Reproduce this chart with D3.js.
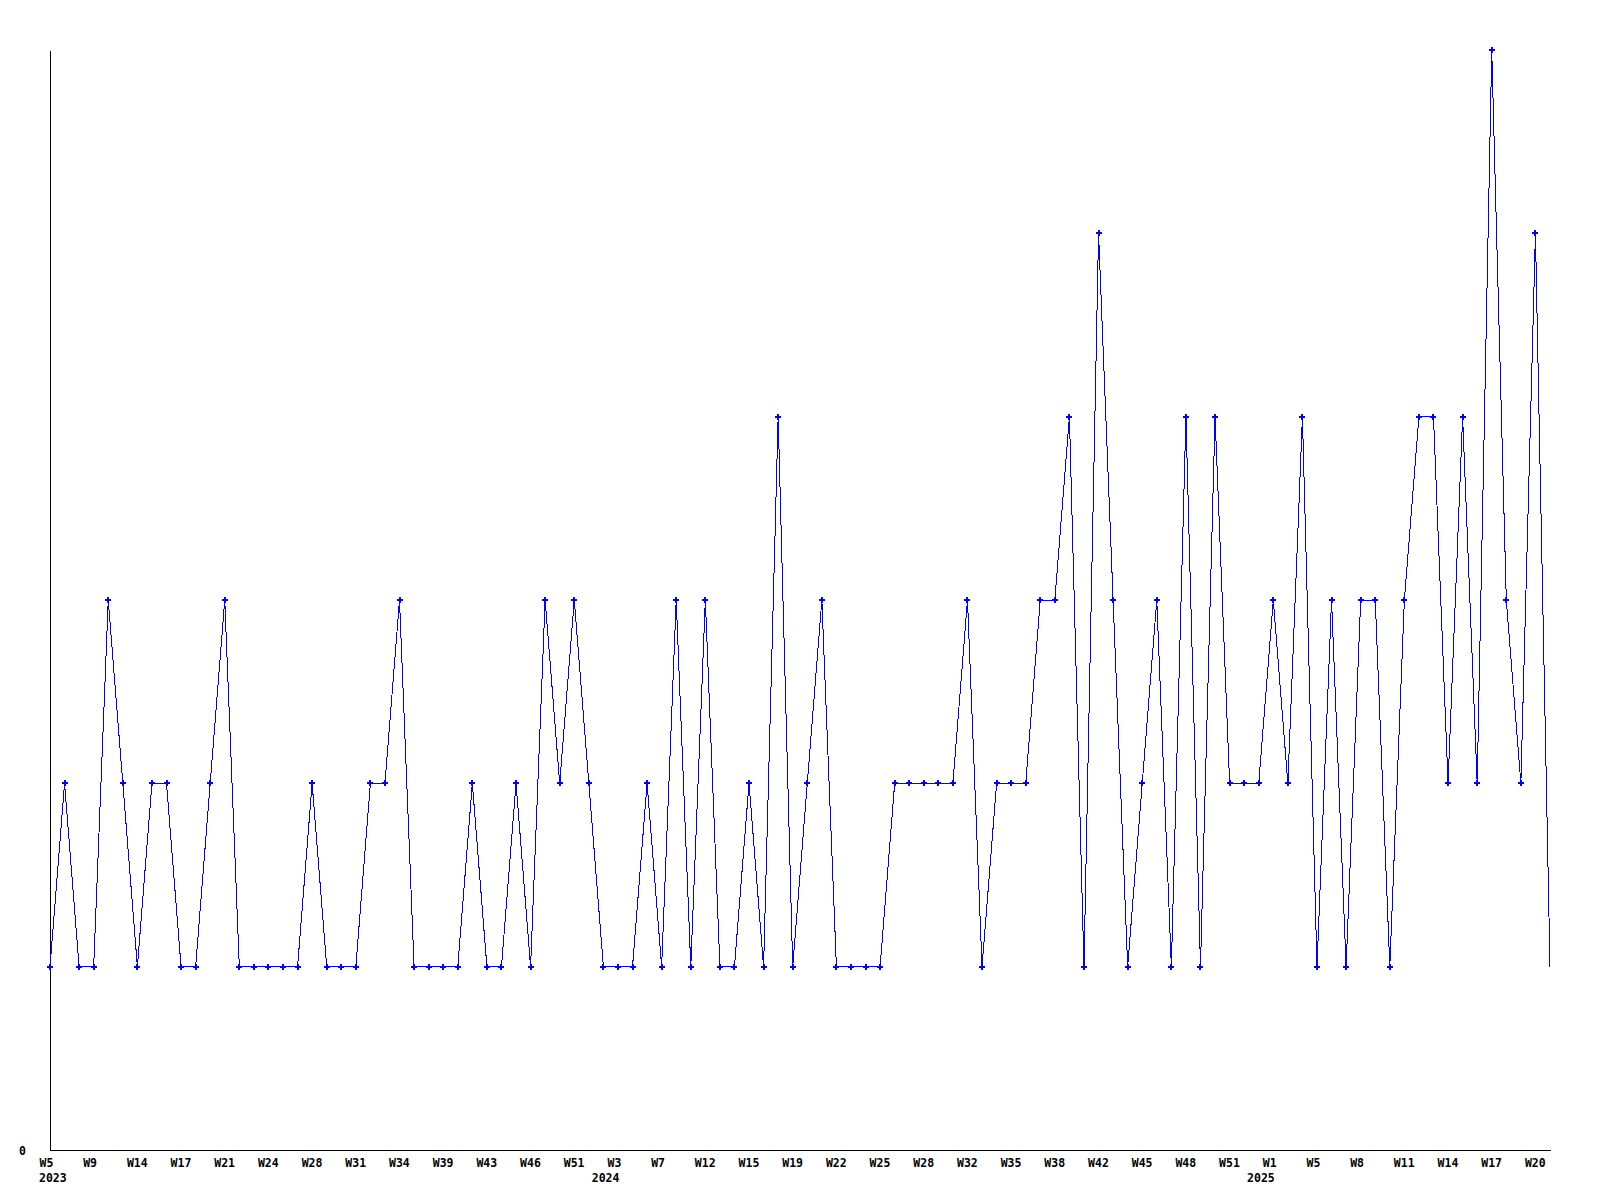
<!DOCTYPE html>
<html>
<head>
<meta charset="utf-8">
<script src="https://cdn.jsdelivr.net/npm/d3@7"></script>
<style>
  html, body { margin: 0; padding: 0; background: #fff; }
  svg { display: block; }
  text { font-family: "DejaVu Sans Mono", monospace; font-weight: bold; font-size: 11.5px; fill: #000; }
</style>
</head>
<body>
<svg id="chart" width="1600" height="1200"></svg>
<script>
// ---- data ----
const values = [
  1,2,1,1,3,2,1,2,2,1,
  1,2,3,1,1,1,1,1,2,1,
  1,1,2,2,3,1,1,1,1,2,
  1,1,2,1,3,2,3,2,1,1,
  1,2,1,3,1,3,1,1,2,1,
  4,1,2,3,1,1,1,1,2,2,
  2,2,2,3,1,2,2,2,3,3,
  4,1,5,3,1,2,3,1,4,1,
  4,2,2,2,3,2,4,1,3,1,
  3,3,1,3,4,4,2,4,2,6,
  3,2,5,1
];
const tickLabels = ["W5","W9","W14","W17","W21","W24","W28","W31","W34","W39","W43","W46","W51",
  "W3","W7","W12","W15","W19","W22","W25","W28","W32","W35","W38","W42","W45","W48","W51",
  "W1","W5","W8","W11","W14","W17","W20"];
const tickIndex = tickLabels.map((_, i) => i * 3);
const yearLabels = ["2023", "2024", "2025"];
const yearIndex = [0, 39, 84];
const yTicks = [0];

// ---- layout ----
const svg = d3.select("#chart");
const x = d3.scaleLinear().domain([0, values.length - 1]).range([50, 1550]);
const y = d3.scaleLinear().domain([0, 6]).range([1150, 50]);

// axes
const xAxis = d3.axisBottom(x).tickValues(tickIndex)
  .tickFormat((d, i) => tickLabels[i]).tickSize(0).tickSizeOuter(0);
const gx = svg.append("g").attr("transform", "translate(0,1150)").call(xAxis);
gx.select(".domain").attr("stroke", "#000").attr("shape-rendering", "crispEdges");
gx.selectAll(".tick text")
  .attr("text-anchor", "start").attr("x", -11).attr("y", 17).attr("dy", 0)
  .style("font-family", "DejaVu Sans Mono").style("font-weight", "bold").style("font-size", "11.5px");

const yAxis = d3.axisLeft(y).tickValues(yTicks).tickFormat(d3.format("d")).tickSize(0).tickSizeOuter(0);
const gy = svg.append("g").attr("transform", "translate(50,0)").call(yAxis);
gy.select(".domain").attr("stroke", "#000").attr("shape-rendering", "crispEdges");
gy.selectAll(".tick text")
  .attr("text-anchor", "end").attr("x", -24).attr("y", 4).attr("dy", 0)
  .style("font-family", "DejaVu Sans Mono").style("font-weight", "bold").style("font-size", "11.5px");

// year labels
const yearG = svg.append("g");
yearLabels.forEach((lab, i) => {
  const px = x(yearIndex[i]);
  const t = yearG.append("text").attr("y", 1182).text(lab);
  const w = t.node().getComputedTextLength();
  let sx = px + 1.5 - w;
  if (sx < x(0) - 11) sx = x(0) - 11;
  t.attr("x", sx);
});

// line
const line = d3.line().x((d, i) => x(i)).y(d => y(d));
svg.append("path").datum(values)
  .attr("d", line)
  .attr("fill", "none")
  .attr("stroke", "#0000ff")
  .attr("stroke-width", 1)
  .attr("shape-rendering", "crispEdges");

// markers (all but last point)
svg.append("g").selectAll("path.m")
  .data(values.slice(0, values.length - 1))
  .join("path")
  .attr("class", "m")
  .attr("transform", (d, i) => `translate(${Math.round(x(i))},${Math.round(y(d))})`)
  .attr("d", "M-3,0H3M0,-3V3")
  .attr("stroke", "#0000ff")
  .attr("stroke-width", 2)
  .attr("fill", "none")
  .attr("shape-rendering", "crispEdges");
</script>
</body>
</html>
